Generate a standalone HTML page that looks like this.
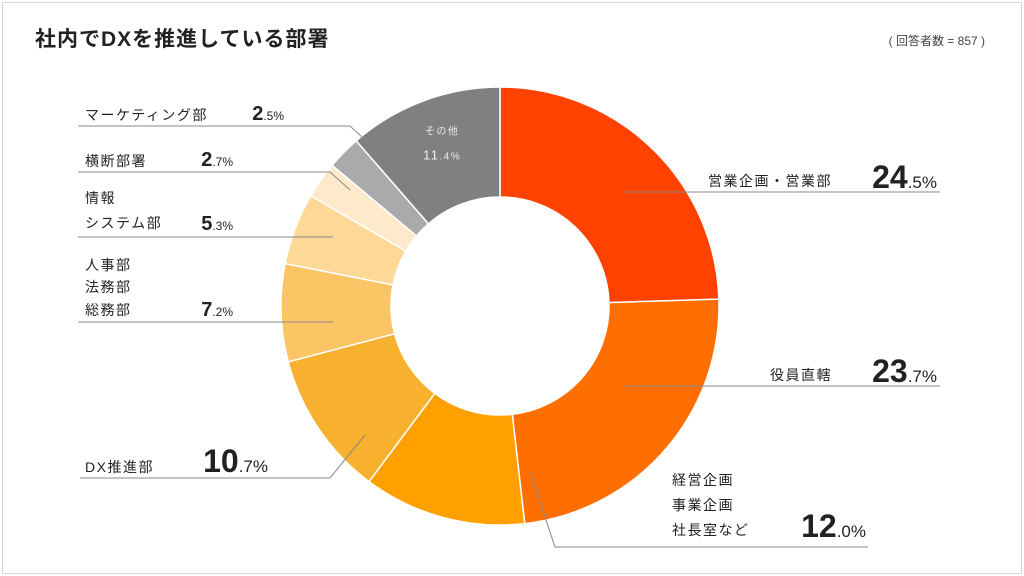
<!DOCTYPE html>
<html><head><meta charset="utf-8"><style>
body{margin:0;background:#fff;}
#wrap{position:relative;width:1024px;height:576px;overflow:hidden;font-family:"Liberation Sans","Noto Sans CJK JP",sans-serif;color:#222;}
#frame{position:absolute;left:2px;top:2px;width:1018px;height:570px;border:1px solid #d8d8d8;}
.lb{letter-spacing:1.5px;}
</style></head><body>
<div id="wrap">
<div id="frame"></div>
<svg id="svg" width="1024" height="576" style="position:absolute;left:0;top:0">
<text x="35" y="46" font-size="21" font-weight="bold" fill="#222" letter-spacing="1">社内でDXを推進している部署</text>
<text x="985" y="45" font-size="12" fill="#444" text-anchor="end">( 回答者数 = 857 )</text>
<g id="slices"></g>
<g id="labels"></g>
</svg>
</div>
<script>
const categories=["営業企画・営業部","役員直轄","経営企画 事業企画 社長室など","DX推進部","人事部 法務部 総務部","情報システム部","横断部署","マーケティング部","その他"];
const values=[24.5,23.7,12.0,10.7,7.2,5.3,2.7,2.5,11.4];
const valueLabels=["24.5","23.7","12.0","10.7","7.2","5.3","2.7","2.5","11.4"];
const colors=["#FF4200","#FF6E00","#FFA000","#F8B12E","#FBC566","#FDD896","#FEEACB","#AAAAAA","#808080"];
const cx=500,cy=306,R=219,r=109;
const NS="http://www.w3.org/2000/svg";
const g=document.getElementById('slices');
const total=values.reduce((a,b)=>a+b,0);
function pt(a,rad){return [cx+rad*Math.sin(a),cy-rad*Math.cos(a)];}
let acc=0;const mids=[];
values.forEach((v,i)=>{
 const a0=acc/total*2*Math.PI;acc+=v;const a1=acc/total*2*Math.PI;
 mids.push((a0+a1)/2);
 const lg=(a1-a0)>Math.PI?1:0;
 const p1=pt(a0,R),p2=pt(a1,R),p3=pt(a1,r),p4=pt(a0,r);
 const p=document.createElementNS(NS,'path');
 p.setAttribute('d',`M${p1}A${R},${R} 0 ${lg} 1 ${p2}L${p3}A${r},${r} 0 ${lg} 0 ${p4}Z`);
 p.setAttribute('fill',colors[i]);p.setAttribute('stroke','#fff');p.setAttribute('stroke-width','1.5');
 
 
 g.appendChild(p);
});
const L=document.getElementById('labels');
function line(pts,name){const l=document.createElementNS(NS,'polyline');l.setAttribute('points',pts.map(p=>p.join(',')).join(' '));l.setAttribute('fill','none');l.setAttribute('stroke','#888');l.setAttribute('stroke-width','1');
 
 
 L.appendChild(l);}
function text(x,y,s,size,anchor,name,weight,fill){const t=document.createElementNS(NS,'text');t.setAttribute('x',x);t.setAttribute('y',y);t.setAttribute('font-size',size);t.setAttribute('text-anchor',anchor||'start');t.setAttribute('class','lb');if(weight)t.setAttribute('font-weight',weight);t.setAttribute('fill',fill||'#222');t.textContent=s;
 
 
 L.appendChild(t);return t;}
function pct(x,y,i,big,small,name){const t=document.createElementNS(NS,'text');t.setAttribute('x',x);t.setAttribute('y',y);t.setAttribute('fill','#222');t.setAttribute('text-anchor','end');
 const parts=valueLabels[i].split('.');
 t.innerHTML=`<tspan font-size="${big}" font-weight="bold">${parts[0]}</tspan><tspan font-size="${small}">.${parts[1]}%</tspan>`;
 
 
 L.appendChild(t);}
line([[625,192],[940,192]],'leader-0');
text(832,186,"営業企画・営業部",14,'end','label-0');pct(937,188,0,32,17,'value-0');
line([[625,386],[940,386]],'leader-1');
text(832,380,"役員直轄",14,'end','label-1');pct(937,382,1,32,17,'value-1');
line([[530,472],[555,547],[868,547]],'leader-2');
text(672,485,"経営企画",14,'start','label-2a');text(672,510,"事業企画",14,'start','label-2b');text(672,535,"社長室など",14,'start','label-2c');pct(866,537,2,32,17,'value-2');
line([[365,435],[330,478],[80,478]],'leader-3');
text(85,472,"DX推進部",14,'start','label-3');pct(268,472,3,32,17,'value-3');
line([[333,322],[78,322]],'leader-4');
text(85,270,"人事部",14,'start','label-4a');text(85,292,"法務部",14,'start','label-4b');text(85,315,"総務部",14,'start','label-4c');pct(233,316,4,20,12,'value-4');
line([[333,237],[78,237]],'leader-5');
text(85,203,"情報",14,'start','label-5a');text(85,228,"システム部",14,'start','label-5b');pct(233,230,5,20,12,'value-5');
line([[78,172],[330,172],[350,190]],'leader-6');
text(85,166,"横断部署",14,'start','label-6');pct(233,166,6,20,12,'value-6');
line([[78,126],[350,126],[363,138]],'leader-7');
text(85,120,"マーケティング部",14,'start','label-7');pct(284,120,7,20,12,'value-7');
const m=mids[8];const ip=pt(m,165);
text(ip[0],ip[1]-17,"その他",10,'middle','label-8',null,'#e8e8e8');
const t=text(ip[0],ip[1]+8,"",11,'middle','value-8',null,'#eee');
const pp=valueLabels[8].split('.');t.innerHTML=`<tspan font-size="13">${pp[0]}</tspan><tspan font-size="10">.${pp[1]}%</tspan>`;
</script>
</body></html>
